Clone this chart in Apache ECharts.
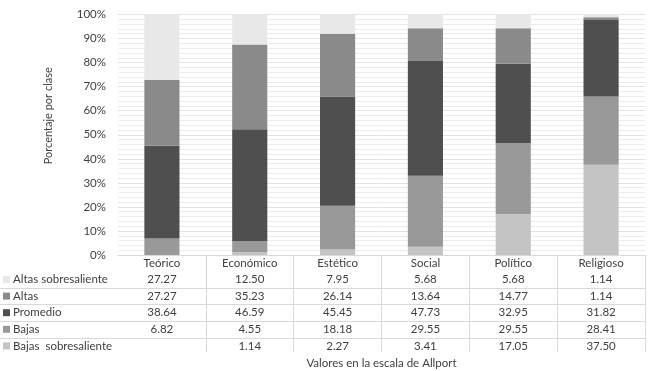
<!DOCTYPE html>
<html>
<head>
<meta charset="utf-8">
<script src="https://cdn.jsdelivr.net/npm/echarts@6/dist/echarts.min.js"></script>
<style>
  html, body { margin: 0; padding: 0; background: #fff; }
  #main { width: 648px; height: 371px; }
</style>
</head>
<body>
<div id="main"></div>
<script>
// categories and stacked percentages per class
var categories = ['Teórico', 'Económico', 'Estético', 'Social', 'Político', 'Religioso'];
var altasSob = [27.27, 12.50, 7.95, 5.68, 5.68, 1.14];
var altas = [27.27, 35.23, 26.14, 13.64, 14.77, 1.14];
var promedio = [38.64, 46.59, 45.45, 47.73, 32.95, 31.82];
var bajas = [6.82, 4.55, 18.18, 29.55, 29.55, 28.41];
var bajasSob = [null, 1.14, 2.27, 3.41, 17.05, 37.50];

// table rows, top to bottom
var rowNames = ['Altas sobresaliente', 'Altas', 'Promedio', 'Bajas', 'Bajas  sobresaliente'];
var rowValues = [altasSob, altas, promedio, bajas, bajasSob];
var rowColors = ['#e8e8e8', '#8a8a8a', '#4f4f4f', '#999999', '#c4c4c4'];

var font = 'Lato, "Open Sans", sans-serif';
var axisY = 255;       // pixel of the 0% line
var rowTop = 271.2;    // first data row top
var rowH = 16.6;
var lineCol = '#d9d9d9';

var myChart = echarts.init(document.getElementById('main'));

// one extra x axis per table row, used only for its labels
var rowAxes = rowValues.map(function (vals, r) {
  var center = rowTop + rowH * r + rowH / 2;
  return {
    type: 'category',
    data: categories,
    position: 'bottom',
    offset: center - 7 - axisY,
    axisLine: { show: false },
    axisTick: { show: false },
    axisLabel: {
      margin: 0,
      interval: 0,
      color: '#404040',
      fontFamily: font,
      fontSize: 11.5,
      lineHeight: 14,
      formatter: function (v, i) {
        return vals[i] == null ? '' : vals[i].toFixed(2);
      }
    }
  };
});

// horizontal separators between table rows
var rowLines = [];
for (var r = 1; r < rowNames.length; r++) {
  var y = Math.round(rowTop + rowH * r) + 0.5;
  rowLines.push({
    type: 'line',
    shape: { x1: 0, y1: y, x2: 645, y2: y },
    style: { stroke: lineCol, lineWidth: 1 },
    silent: true
  });
}

// stacked bottom to top
var stackOrder = [4, 3, 2, 1, 0];
var series = stackOrder.map(function (r) {
  return {
    name: rowNames[r],
    type: 'bar',
    stack: 'total',
    barCategoryGap: '60%',
    itemStyle: { color: rowColors[r] },
    data: rowValues[r]
  };
});

var option = {
  animation: false,
  textStyle: { fontFamily: font },
  grid: {
    left: 118, right: 3, top: 14.5, bottom: 371 - axisY,
    outerBoundsMode: 'none'
  },
  legend: {
    orient: 'vertical',
    left: 3,
    top: rowTop + rowH / 2 - 7,
    padding: 0,
    itemWidth: 7,
    itemHeight: 7,
    itemGap: rowH - 14,
    icon: 'rect',
    data: rowNames,
    selectedMode: false,
    textStyle: { color: '#404040', fontSize: 11.5, lineHeight: 14, fontFamily: font, padding: [0, 0, 0, -2] }
  },
  xAxis: [{
    type: 'category',
    data: categories,
    name: 'Valores en la escala de Allport',
    nameLocation: 'middle',
    nameGap: 101,
    nameTextStyle: { color: '#404040', fontSize: 11.5, lineHeight: 14, fontFamily: font },
    axisLine: { lineStyle: { color: lineCol } },
    axisTick: {
      show: true,
      length: 97,
      interval: function (i) { return i > 0; },
      lineStyle: { color: lineCol }
    },
    axisLabel: {
      margin: 1,
      interval: 0,
      color: '#404040',
      fontFamily: font,
      fontSize: 11.5,
      lineHeight: 14
    }
  }].concat(rowAxes),
  yAxis: {
    type: 'value',
    min: 0,
    max: 100,
    interval: 10,
    name: 'Porcentaje por clase',
    nameLocation: 'middle',
    nameGap: 64,
    nameTextStyle: { color: '#404040', fontSize: 11, fontFamily: font, padding: [0, 0, 0, 38] },
    axisLabel: { formatter: '{value}%', color: '#404040', fontSize: 11.5, margin: 12, fontFamily: font },
    axisLine: { show: false },
    axisTick: { show: false },
    splitLine: { lineStyle: { color: '#e2e2e2' } },
    minorTick: { show: false, splitNumber: 5 },
    minorSplitLine: { show: true, lineStyle: { color: '#ececec' } }
  },
  graphic: rowLines,
  series: series
};

myChart.setOption(option);
</script>
</body>
</html>
